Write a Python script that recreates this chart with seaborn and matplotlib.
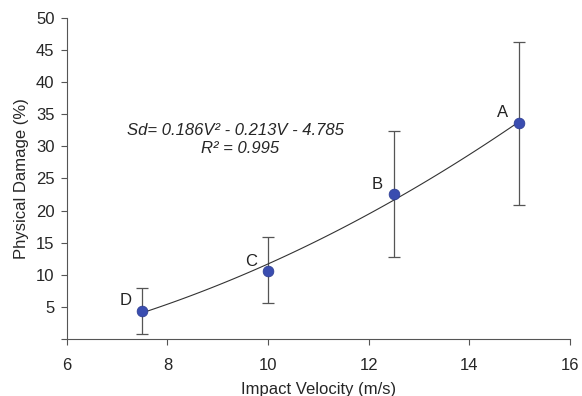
import numpy as np
import pandas as pd
import matplotlib
matplotlib.use("Agg")
import matplotlib.pyplot as plt
import seaborn as sns

# data
velocity = [7.5, 10.0, 12.5, 15.0]
damage = [4.4, 10.6, 22.6, 33.7]
err_low = [0.8, 5.6, 12.8, 20.9]
err_high = [7.9, 15.8, 32.4, 46.3]
point_labels = ["D", "C", "B", "A"]

# trendline coefficients printed on the chart
coef_a, coef_b, coef_c = 0.186, -0.213, -4.785

sns.set_style("white")
plt.rcParams['font.family'] = ['Liberation Sans', 'DejaVu Sans']

df = pd.DataFrame({"v": velocity, "sd": damage})
v_fit = np.linspace(min(velocity), max(velocity), 100)
fit = pd.DataFrame({"v": v_fit, "sd": coef_a * v_fit**2 + coef_b * v_fit + coef_c})

fig = plt.figure(figsize=(5.82, 3.96), dpi=100)
ax = fig.add_axes([0.115, 0.144, 0.864, 0.811])

yerr = [np.array(damage) - np.array(err_low), np.array(err_high) - np.array(damage)]
ax.errorbar(velocity, damage, yerr=yerr, fmt='none', ecolor='#555555',
            elinewidth=0.9, capsize=4, capthick=0.9, zorder=1)
sns.lineplot(data=fit, x="v", y="sd", color='#333333', linewidth=0.8, ax=ax, zorder=2)
sns.scatterplot(data=df, x="v", y="sd", color='#3A4DB0', s=60, edgecolor='#2A3A90',
                linewidth=0.5, ax=ax, zorder=3)

for v, d, lab in zip(velocity, damage, point_labels):
    ax.annotate(lab, (v, d), xytext=(-8, 7), textcoords='offset points',
                ha='right', va='center', fontsize=12, color='#222222')

ax.text(9.36, 32.5, "Sd= 0.186V² - 0.213V - 4.785", fontsize=12, style='italic',
        ha='center', va='center')
ax.text(9.45, 29.7, "R² = 0.995", fontsize=12, style='italic', ha='center', va='center')

ax.set_xlim(6, 16)
ax.set_ylim(0, 50)
ax.set_xticks([6, 8, 10, 12, 14, 16])
ax.set_yticks([0, 5, 10, 15, 20, 25, 30, 35, 40, 45, 50])
ax.set_yticklabels([""] + [str(t) for t in range(5, 55, 5)])
ax.tick_params(axis='both', direction='out', length=4, width=0.8, color='#555555',
               labelsize=12, left=True, bottom=True, pad=5)
ax.tick_params(axis='x', pad=10)
for side in ['top', 'right']:
    ax.spines[side].set_visible(False)
for side in ['left', 'bottom']:
    ax.spines[side].set_color('#555555')
    ax.spines[side].set_linewidth(0.8)

ax.set_xlabel("Impact Velocity (m/s)", fontsize=12, labelpad=6)
ax.set_ylabel("Physical Damage (%)", fontsize=12, labelpad=5)

plt.savefig("out.png", dpi=100)
